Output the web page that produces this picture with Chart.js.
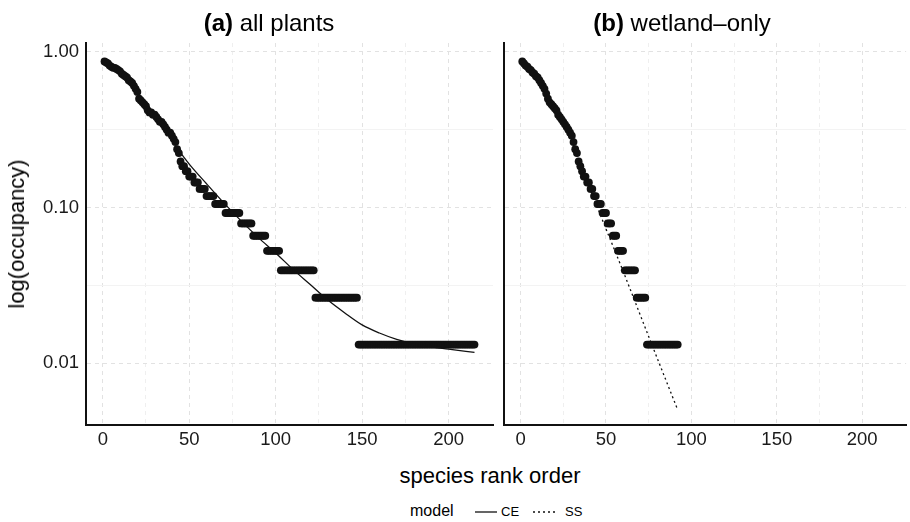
<!DOCTYPE html>
<html>
<head>
<meta charset="utf-8">
<script src="https://cdn.jsdelivr.net/npm/chart.js@4.4.0/dist/chart.umd.min.js"></script>
<style>
  html, body { margin: 0; padding: 0; background: #fff; }
  body {
    width: 910px; height: 522px; position: relative; overflow: hidden;
    font-family: "Liberation Sans", Arial, Helvetica, sans-serif; color: #000;
  }
  canvas { position: absolute; top: 0; }
  #plotA { left: 0; }
  #plotB { left: 440px; }
  .title {
    position: absolute; top: 11px; font-size: 24px; line-height: 24px;
    white-space: nowrap; transform: translateX(-50%);
  }
  .title b { font-weight: bold; }
  .axis-title { position: absolute; font-size: 22px; line-height: 22px; white-space: nowrap; }
  #xTitle { left: 490px; top: 465px; transform: translateX(-50%); }
  #yTitle { left: 17px; top: 234px; transform: translate(-50%, -50%) rotate(-90deg); }
  .legend { position: absolute; white-space: nowrap; line-height: 16px; }
  .key { position: absolute; display: block; }
</style>
</head>
<body>
<canvas id="plotA" width="500" height="460"></canvas>
<canvas id="plotB" width="470" height="460"></canvas>

<div class="title" style="left:269px"><b>(a)</b> all plants</div>
<div class="title" style="left:682px"><b>(b)</b> wetland–only</div>
<div class="axis-title" id="xTitle">species rank order</div>
<div class="axis-title" id="yTitle">log(occupancy)</div>

<div class="legend" style="left:410px; top:503px; font-size:16px;">model</div>
<svg class="key" style="left:475px; top:506px" width="22" height="12"><line x1="0" y1="6" x2="22" y2="6" stroke="#111" stroke-width="1.3"/></svg>
<div class="legend" style="left:501px; top:504px; font-size:13px;">CE</div>
<svg class="key" style="left:533px; top:506px" width="24" height="12"><line x1="0" y1="6" x2="24" y2="6" stroke="#111" stroke-width="1.3" stroke-dasharray="2,3"/></svg>
<div class="legend" style="left:565px; top:504px; font-size:13px;">SS</div>

<script>
// occupancy = sites occupied / total sites
const SITES = 76;

// (a) all plants: sites occupied for ranks 1-64, then runs of equal values
const plantsTopSites = [
  66, 65, 64, 62, 61, 60, 60, 59, 58, 57,
  55, 54, 53, 52, 50, 49, 48, 46, 44, 42,
  38, 37, 36, 35, 34, 32, 31, 31, 30, 30,
  29, 28, 27, 27, 26, 25, 24, 23, 23, 22,
  21, 20, 18, 17, 15, 14, 14, 13, 13, 12,
  12, 12, 11, 11, 11, 10, 10, 10, 10, 9,
  9, 9, 9, 9
];
const plantsTailSites = [8, 7, 6, 5, 4, 3, 2, 1];
const plantsTailCounts = [6, 9, 7, 8, 8, 20, 25, 68];

// (b) wetland-only: ranks 1-60, then runs
const wetTopSites = [
  66, 64, 62, 61, 59, 58, 56, 55, 53, 52,
  50, 48, 46, 44, 41, 38, 36, 35, 34, 33,
  32, 30, 29, 28, 27, 26, 25, 24, 23, 22,
  20, 18, 17, 15, 14, 13, 12, 12, 11, 11,
  10, 10, 9, 9, 8, 8, 8, 7, 7, 7,
  6, 6, 6, 5, 5, 5, 4, 4, 4, 4
];
const wetTailSites = [3, 2, 1];
const wetTailCounts = [7, 6, 19];

// fitted models
const ceRank = [44, 50, 60, 70, 80, 90, 100, 110, 120, 130, 140, 150, 160, 170, 180, 190, 200, 215];
const ceOcc = [0.232, 0.19, 0.142, 0.107, 0.082, 0.064, 0.051, 0.040, 0.032, 0.0255, 0.021, 0.0176, 0.0156, 0.0142, 0.0133, 0.0127, 0.0123, 0.0117];
const ssRank = [30, 45, 60, 75, 92];
const ssOcc = [0.27, 0.10, 0.039, 0.0148, 0.0050];

const xTicks = [0, 50, 100, 150, 200];
const xMinorTicks = [25, 75, 125, 175];
const yTicks = [0.01, 0.1, 1];
const yMinorTicks = [0.0316, 0.316];

const X_MIN = -9.7, X_MAX = 225.7;
const Y_MIN = 0.0040, Y_MAX = 1.14;

const FONT = '"Liberation Sans", Arial, Helvetica, sans-serif';
const INK = '#111';

function expand(top, tailSites, tailCounts) {
  const sites = top.slice();
  tailSites.forEach((s, i) => {
    for (let j = 0; j < tailCounts[i]; j++) sites.push(s);
  });
  return sites.map((s, i) => ({ x: i + 1, y: s / SITES }));
}

function pairs(xs, ys) {
  return xs.map((x, i) => ({ x: x, y: ys[i] }));
}

function setTicks(list) {
  return scale => { scale.ticks = list.map(v => ({ value: v })); };
}

function makePanel(id, points, line, dash, showY, yWidth, padRight) {
  return new Chart(document.getElementById(id), {
    type: 'scatter',
    data: {
      datasets: [
        {
          data: points,
          pointRadius: 3.9,
          pointHoverRadius: 3.9,
          pointBackgroundColor: INK,
          pointBorderWidth: 0,
        },
        {
          data: line,
          showLine: true,
          pointRadius: 0,
          borderColor: INK,
          borderWidth: 1.3,
          borderDash: dash,
          cubicInterpolationMode: 'monotone',
          fill: false,
        },
      ],
    },
    options: {
      responsive: false,
      animation: false,
      devicePixelRatio: 1,
      layout: { padding: { top: 43, right: padRight, left: 0, bottom: 0 } },
      plugins: { legend: { display: false }, tooltip: { enabled: false } },
      scales: {
        x: {
          type: 'linear', position: 'bottom', min: X_MIN, max: X_MAX,
          afterBuildTicks: setTicks(xTicks),
          afterFit: s => { s.height = 35; },
          ticks: { padding: 4, maxRotation: 0, autoSkip: false, color: '#1a1a1a', font: { family: FONT, size: 18.5 } },
          grid: { color: '#e2e2e2', lineWidth: 1, drawTicks: false },
          border: { display: true, color: INK, width: 2, dash: [4, 4] },
        },
        xMinor: {
          type: 'linear', position: 'bottom', min: X_MIN, max: X_MAX,
          afterBuildTicks: setTicks(xMinorTicks),
          afterFit: s => { s.height = 0; },
          ticks: { display: false },
          grid: { color: '#efefef', lineWidth: 1, drawTicks: false },
          border: { display: false, dash: [4, 4] },
        },
        y: {
          type: 'logarithmic', position: 'left', min: Y_MIN, max: Y_MAX,
          afterBuildTicks: setTicks(yTicks),
          afterFit: s => { s.width = yWidth; },
          ticks: { display: showY, padding: 7, color: '#1a1a1a', font: { family: FONT, size: 18.5 }, callback: v => Number(v).toFixed(2) },
          grid: { color: '#e2e2e2', lineWidth: 1, drawTicks: false },
          border: { display: true, color: INK, width: 2, dash: [4, 4] },
        },
        yMinor: {
          type: 'logarithmic', position: 'left', min: Y_MIN, max: Y_MAX,
          afterBuildTicks: setTicks(yMinorTicks),
          afterFit: s => { s.width = 0; },
          ticks: { display: false },
          grid: { color: '#f3f3f3', lineWidth: 1, drawTicks: false },
          border: { display: false },
        },
      },
    },
  });
}

makePanel('plotA', expand(plantsTopSites, plantsTailSites, plantsTailCounts), pairs(ceRank, ceOcc), [], true, 86, 7);
makePanel('plotB', expand(wetTopSites, wetTailSites, wetTailCounts), pairs(ssRank, ssOcc), [2, 3], false, 64, 0);
</script>
</body>
</html>
